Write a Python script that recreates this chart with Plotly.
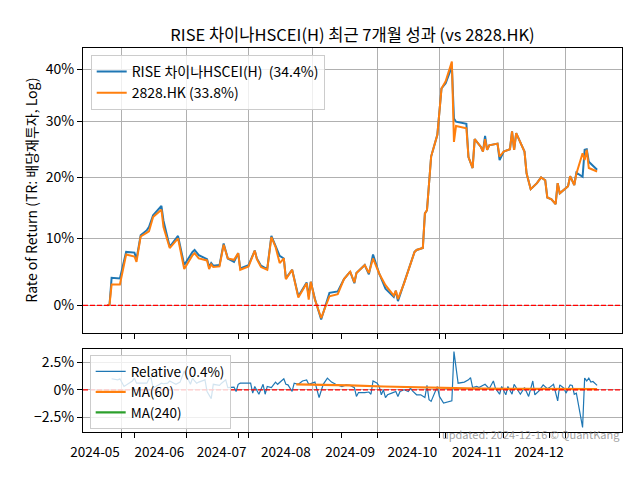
import plotly.graph_objects as go

# ---------------- data ----------------
dates = [
    "2024-04-24", "2024-04-25", "2024-04-26", "2024-04-30", "2024-05-03", "2024-05-07", "2024-05-08",
    "2024-05-10", "2024-05-13", "2024-05-14", "2024-05-16", "2024-05-20", "2024-05-21", "2024-05-24",
    "2024-05-28", "2024-05-31", "2024-06-04", "2024-06-05", "2024-06-07", "2024-06-11", "2024-06-12",
    "2024-06-13", "2024-06-14", "2024-06-17", "2024-06-19", "2024-06-21", "2024-06-24", "2024-06-26",
    "2024-06-27", "2024-07-01", "2024-07-04", "2024-07-05", "2024-07-07", "2024-07-10", "2024-07-12",
    "2024-07-14", "2024-07-16", "2024-07-18", "2024-07-19", "2024-07-22", "2024-07-25", "2024-07-29",
    "2024-07-30", "2024-07-31", "2024-08-02", "2024-08-05", "2024-08-09", "2024-08-13", "2024-08-16",
    "2024-08-19", "2024-08-21", "2024-08-22", "2024-08-26", "2024-08-28", "2024-08-30", "2024-09-02",
    "2024-09-05", "2024-09-09", "2024-09-10", "2024-09-11", "2024-09-14", "2024-09-19", "2024-09-20",
    "2024-09-23", "2024-09-24", "2024-09-25", "2024-09-27", "2024-09-30", "2024-10-02", "2024-10-04",
    "2024-10-07", "2024-10-08", "2024-10-09", "2024-10-14", "2024-10-15", "2024-10-17", "2024-10-18",
    "2024-10-21", "2024-10-22", "2024-10-23", "2024-10-24", "2024-10-25", "2024-10-29", "2024-10-30",
    "2024-11-01", "2024-11-04", "2024-11-05", "2024-11-06", "2024-11-07", "2024-11-11", "2024-11-12",
    "2024-11-14", "2024-11-17", "2024-11-19", "2024-11-21", "2024-11-22", "2024-11-24", "2024-11-26",
    "2024-11-27", "2024-11-28", "2024-12-02", "2024-12-03", "2024-12-05", "2024-12-06", "2024-12-09",
    "2024-12-10", "2024-12-11", "2024-12-12", "2024-12-16",
]
rise_pct = [
    0.0, 0.1, 4.0, 3.9, 7.9, 7.8, 6.8,
    10.5, 11.3, 11.8, 13.7, 15.2, 12.8, 8.7,
    10.4, 5.9, 7.9, 8.2, 7.4, 6.8, 5.6,
    6.2, 5.8, 5.9, 9.2, 6.9, 6.4, 7.7,
    5.4, 5.9, 8.1, 6.9, 5.8, 5.3, 10.4,
    8.9, 7.3, 6.9, 3.9, 5.2, 1.3, 3.3,
    1.3, 3.4, 0.9, -2.0, 1.8, 2.0, 3.8,
    4.9, 3.2, 4.7, 5.9, 4.5, 7.5, 4.6,
    2.4, 1.2, 2.1, 0.6, 3.2, 7.9, 8.2,
    8.5, 14.0, 14.5, 23.6, 27.5, 36.2, 37.2,
    40.5, 30.5, 29.9, 29.5, 23.5, 21.6, 26.7,
    25.3, 24.5, 27.3, 24.8, 25.6, 25.9, 23.0,
    24.5, 24.9, 28.1, 24.8, 27.8, 24.5, 20.7,
    18.0, 19.0, 20.0, 19.5, 16.6, 16.3, 15.5,
    19.0, 17.3, 18.5, 20.2, 18.7, 20.8, 20.1,
    24.8, 24.9, 22.7, 21.3,
]
hk2828_pct = [
    0.0, 0.1, 3.0, 3.0, 7.5, 7.2, 6.4,
    10.3, 10.9, 11.1, 13.4, 14.6, 11.8, 8.5,
    10.0, 5.3, 7.4, 7.7, 6.9, 6.6, 5.3,
    6.0, 5.6, 5.7, 9.0, 6.9, 6.7, 7.7,
    5.2, 5.7, 8.1, 6.8, 5.6, 5.2, 10.2,
    8.7, 6.2, 6.9, 3.8, 5.2, 1.1, 3.2,
    0.8, 3.4, 0.8, -1.8, 1.3, 1.6, 3.8,
    4.9, 3.3, 4.7, 5.9, 4.7, 6.9, 4.6,
    2.9, 1.4, 2.1, 0.9, 3.2, 7.9, 8.2,
    8.5, 14.0, 14.5, 23.6, 27.5, 36.2, 37.6,
    41.5, 26.2, 29.1, 28.7, 23.5, 21.6, 26.7,
    25.3, 24.5, 26.7, 24.8, 25.6, 25.9, 23.6,
    24.5, 24.9, 28.1, 24.8, 27.8, 24.5, 20.7,
    18.0, 19.0, 20.0, 19.5, 16.6, 16.3, 15.5,
    19.0, 17.3, 18.5, 20.2, 18.7, 20.6, 24.2,
    23.0, 24.8, 21.6, 21.0,
]

rel_dates = [
    "2024-04-26", "2024-04-29", "2024-04-30", "2024-05-02", "2024-05-06", "2024-05-07", "2024-05-08",
    "2024-05-13", "2024-05-14", "2024-05-15", "2024-05-16", "2024-05-20", "2024-05-21", "2024-05-23",
    "2024-05-24", "2024-05-27", "2024-05-29", "2024-05-31", "2024-06-03", "2024-06-04", "2024-06-05",
    "2024-06-06", "2024-06-07", "2024-06-10", "2024-06-11", "2024-06-13", "2024-06-14", "2024-06-17",
    "2024-06-18", "2024-06-20", "2024-06-21", "2024-06-24", "2024-06-25", "2024-06-26", "2024-06-27",
    "2024-06-28", "2024-07-02", "2024-07-03", "2024-07-04", "2024-07-06", "2024-07-08", "2024-07-09",
    "2024-07-10", "2024-07-12", "2024-07-14", "2024-07-15", "2024-07-18", "2024-07-19", "2024-07-20",
    "2024-07-22", "2024-07-23", "2024-07-25", "2024-07-27", "2024-07-29", "2024-07-30", "2024-08-02",
    "2024-08-04", "2024-08-06", "2024-08-08", "2024-08-10", "2024-08-12", "2024-08-15", "2024-08-17",
    "2024-08-19", "2024-08-21", "2024-08-22", "2024-08-23", "2024-08-26", "2024-08-28", "2024-08-29",
    "2024-08-30", "2024-09-01", "2024-09-02", "2024-09-03", "2024-09-04", "2024-09-05", "2024-09-06",
    "2024-09-08", "2024-09-10", "2024-09-11", "2024-09-12", "2024-09-14", "2024-09-16", "2024-09-17",
    "2024-09-18", "2024-09-20", "2024-09-22", "2024-09-24", "2024-09-25", "2024-09-26", "2024-09-27",
    "2024-09-30", "2024-10-01", "2024-10-03", "2024-10-07", "2024-10-08", "2024-10-10", "2024-10-13",
    "2024-10-15", "2024-10-16", "2024-10-17", "2024-10-19", "2024-10-20", "2024-10-23", "2024-10-25",
    "2024-10-27", "2024-10-28", "2024-10-30", "2024-10-31", "2024-11-02", "2024-11-03", "2024-11-05",
    "2024-11-06", "2024-11-09", "2024-11-11", "2024-11-13", "2024-11-15", "2024-11-16", "2024-11-18",
    "2024-11-20", "2024-11-22", "2024-11-23", "2024-11-25", "2024-11-27", "2024-11-28", "2024-11-30",
    "2024-12-01", "2024-12-03", "2024-12-04", "2024-12-05", "2024-12-06", "2024-12-09", "2024-12-10",
    "2024-12-11", "2024-12-12", "2024-12-13", "2024-12-14", "2024-12-16",
]
rel_pct = [
    1.0, 0.9, 1.0, 0.3, 0.8, 1.06, 0.6,
    0.6, 1.0, 1.1, 0.15, 0.6, 0.55, 0.6,
    0.8, 0.5, 0.7, 1.7, 0.5, 1.06, 0.8,
    0.6, 0.7, 0.9, -0.15, -0.8, 0.5, 0.4,
    0.6, 0.9, 0.2, 0.25, -0.15, 0.5, 0.6,
    0.6, 0.6, -0.3, 0.3, -0.4, 0.5, -0.4,
    0.3, 0.2, 0.7, 0.5, 1.0, 0.5, 0.45,
    -0.15, 0.6, 0.5, 0.8, 0.9, 0.5, 0.7,
    -0.7, 0.5, 1.06, 0.7, 0.5, 0.3, 0.45,
    0.4, 0.2, -0.6, -0.25, -0.25, -0.2, -0.4,
    0.8, 0.6, 0.3, -0.45, 0.0, -0.7, -0.45,
    -0.3, -0.15, -0.6, -0.15, 0.0, -0.15, 0.15,
    -0.1, -0.45, -0.45, -0.7, 0.4, -0.9, -1.05,
    0.3, -0.6, -1.2, -1.0, 3.46, 0.6, 0.7,
    0.9, 1.1, 0.2, 0.3, 0.2, 0.5, 0.1,
    0.8, 0.15, -0.4, 0.3, -0.45, 0.3, -0.4,
    0.5, -0.4, 0.2, -0.6, 0.8, -0.45, -0.1,
    0.45, 0.1, 0.2, 0.5, -1.0, 0.45, 0.15,
    -0.3, 0.45, 0.4, -0.4, -0.3, -3.4, 1.06,
    0.8, 1.06, 0.7, 0.75, 0.4,
]

ma60_dates = ["2024-07-24", "2024-08-10", "2024-08-19", "2024-09-04", "2024-09-20",
              "2024-10-01", "2024-10-20", "2024-11-15", "2024-12-16"]
ma60_pct = [0.5, 0.45, 0.4, 0.3, 0.22, 0.15, 0.1, 0.08, 0.06]

month_ticks = ["2024-05-01", "2024-06-01", "2024-07-01", "2024-08-01",
               "2024-09-01", "2024-10-01", "2024-11-01", "2024-12-01"]
month_labels = ["2024-05", "2024-06", "2024-07", "2024-08",
                "2024-09", "2024-10", "2024-11", "2024-12"]
minor_ticks = ["2024-05-07", "2024-06-26", "2024-08-15", "2024-10-04", "2024-11-23"]

ret_ticks = [0, 10, 20, 30, 40]
rel_ticks = [-2.5, 0, 2.5]

title_text = "RISE 차이나HSCEI(H) 최근 7개월 성과 (vs 2828.HK)"
name_rise = "RISE 차이나HSCEI(H)\u00a0\u00a0(34.4%)"
name_hk = "2828.HK (33.8%)"
name_rel = "Relative (0.4%)"

# ---------------- figure ----------------
FONT = "Noto Sans CJK KR, Noto Sans, DejaVu Sans, sans-serif"
BLUE, ORANGE, GREEN = "#1f77b4", "#ff7f0e", "#2ca02c"
GRID = "#b0b0b0"

# the page adds an 8px body margin, so the figure is drawn 8px smaller
W, H = 632, 472

fig = go.Figure()
fig.add_trace(go.Scatter(x=dates, y=[1 + v / 100 for v in rise_pct], mode="lines",
                         line=dict(color=BLUE, width=2), name=name_rise,
                         xaxis="x", yaxis="y", legend="legend"))
fig.add_trace(go.Scatter(x=dates, y=[1 + v / 100 for v in hk2828_pct], mode="lines",
                         line=dict(color=ORANGE, width=2), name=name_hk,
                         xaxis="x", yaxis="y", legend="legend"))
fig.add_trace(go.Scatter(x=rel_dates, y=rel_pct, mode="lines",
                         line=dict(color=BLUE, width=1.2), name=name_rel,
                         xaxis="x2", yaxis="y2", legend="legend2"))
fig.add_trace(go.Scatter(x=ma60_dates, y=ma60_pct, mode="lines",
                         line=dict(color=ORANGE, width=2.2), name="MA(60)",
                         xaxis="x2", yaxis="y2", legend="legend2"))
fig.add_trace(go.Scatter(x=[None], y=[None], mode="lines",
                         line=dict(color=GREEN, width=2.2), name="MA(240)",
                         xaxis="x2", yaxis="y2", legend="legend2"))

xrange = ["2024-04-12 05:00", "2024-12-28 00:00"]
common_x = dict(range=xrange, type="date", tickmode="array", tickvals=month_ticks,
                ticks="outside", ticklen=5, tickcolor="black", showgrid=True,
                gridcolor=GRID, gridwidth=1, showline=True, mirror=True,
                linecolor="black", linewidth=1, zeroline=False,
                minor=dict(tickmode="array", tickvals=minor_ticks, ticks="outside",
                           ticklen=5, tickcolor="black", showgrid=False))
common_y = dict(ticks="outside", ticklen=5, tickcolor="black", showgrid=True,
                gridcolor=GRID, gridwidth=1, showline=True, mirror=True,
                linecolor="black", linewidth=1, zeroline=False,
                tickfont=dict(size=14, color="black"))

top_dom = [0.2586, 1.0]
bot_dom = [0.0, 0.2154]

fig.update_layout(
    width=W, height=H,
    margin=dict(l=75, r=18, t=40, b=48, autoexpand=False),
    paper_bgcolor="white", plot_bgcolor="white",
    font=dict(family=FONT, size=14, color="black"),
    title=dict(text=title_text, x=0.5, xref="paper", xanchor="center",
               y=1 - 27 / H, yref="container", yanchor="middle",
               font=dict(size=16.5, color="black")),
    xaxis=dict(domain=[0, 1], anchor="y", showticklabels=False, matches="x2", **common_x),
    xaxis2=dict(domain=[0, 1], anchor="y2", ticktext=month_labels, ticklabelshift=-27,
                ticklabelstandoff=3,
                tickfont=dict(size=13.5, color="black"), **common_x),
    yaxis=dict(domain=top_dom, anchor="x", type="log", range=[-0.01695, 0.1592],
               tickmode="array", tickvals=[1 + t / 100 for t in ret_ticks],
               ticktext=[f"{t}%" for t in ret_ticks], **common_y),
    yaxis2=dict(domain=bot_dom, anchor="x2", range=[-3.82, 3.67],
                tickmode="array", tickvals=rel_ticks,
                ticktext=[("\u2212" if t < 0 else "") + f"{abs(t):g}%" for t in rel_ticks],
                **common_y),
    legend=dict(x=0.0143, y=0.982, xanchor="left", yanchor="top",
                bgcolor="rgba(255,255,255,0.8)", bordercolor="#cccccc", borderwidth=1,
                font=dict(size=14, color="black")),
    legend2=dict(x=0.0124, y=0.2005, xanchor="left", yanchor="top",
                 bgcolor="rgba(255,255,255,0.8)", bordercolor="#cccccc", borderwidth=1,
                 font=dict(size=13.5, color="black")),
    showlegend=True,
)

# zero reference lines
fig.add_shape(type="line", xref="x domain", yref="y", x0=0, x1=1, y0=1, y1=1,
              line=dict(color="red", width=1.3, dash="5px,2px"), layer="above")
fig.add_shape(type="line", xref="x2 domain", yref="y2", x0=0, x1=1, y0=0, y1=0,
              line=dict(color="red", width=1.3, dash="5px,2px"), layer="above")

# y-axis label of the top panel
fig.add_annotation(text="Rate of Return (TR: 배당재투자, Log)", textangle=-90,
                   xref="paper", yref="paper", x=(31 - 83.3) / 538.4, y=(432 - 190) / 384,
                   xanchor="center", yanchor="middle", showarrow=False,
                   font=dict(size=14, color="black"))
# watermark
fig.add_annotation(text="updated: 2024-12-16 © QuantKang", xref="paper", yref="paper",
                   x=1.0, y=-(434 - 432) / 384, xanchor="right", yanchor="middle",
                   showarrow=False, font=dict(size=11, color="rgba(128,128,128,0.75)"))

fig.write_html("out.html")
